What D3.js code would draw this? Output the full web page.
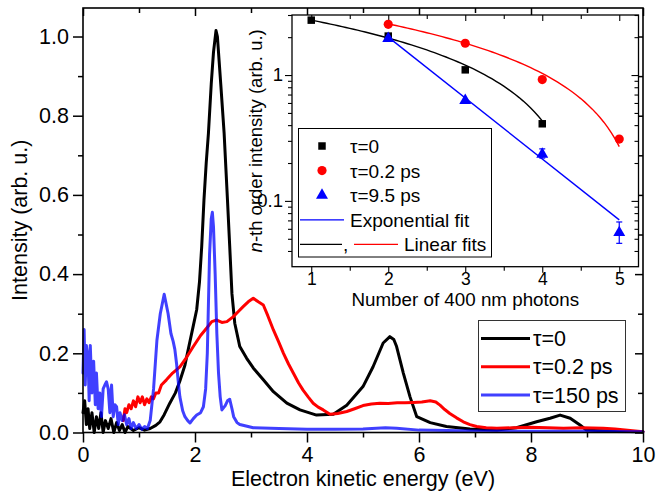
<!DOCTYPE html>
<html>
<head>
<meta charset="utf-8">
<script src="https://cdn.jsdelivr.net/npm/d3@7"></script>
<style>
  html, body { margin: 0; padding: 0; background: #fff; }
  svg { display: block; font-family: "Liberation Sans", Arial, Helvetica, sans-serif; }
</style>
</head>
<body>
<svg id="chart" width="671" height="493"></svg>
<script>
// ---- photoelectron spectra: [kinetic energy (eV), intensity (arb. u.)] ----
const spectrumTau0 = [
  [0.00,0.05],[0.03,0.08],[0.06,0.02],[0.09,0.06],[0.12,0.01],[0.16,0.05],[0.20,0.00],[0.24,0.04],
  [0.28,0.01],[0.32,0.05],[0.36,0.00],[0.40,0.03],[0.45,0.01],[0.50,0.035],[0.55,0.00],[0.60,0.025],
  [0.65,0.005],[0.70,0.02],[0.75,0.00],[0.80,0.015],[0.90,0.005],[1.00,0.012],[1.10,0.006],[1.20,0.01],
  [1.30,0.018],[1.375,0.027],[1.45,0.045],[1.55,0.074],[1.65,0.10],[1.73,0.13],[1.82,0.17],[1.91,0.23],
  [1.97,0.27],[2.03,0.31],[2.08,0.38],[2.12,0.47],[2.16,0.587],[2.20,0.68],[2.24,0.756],[2.29,0.88],
  [2.33,0.96],[2.375,1.015],[2.40,1.0],[2.43,0.94],[2.46,0.88],[2.52,0.756],[2.58,0.587],[2.62,0.47],
  [2.66,0.35],[2.71,0.276],[2.80,0.217],[2.92,0.188],[3.04,0.163],[3.22,0.133],[3.40,0.103],[3.64,0.074],
  [3.875,0.057],[4.17,0.044],[4.47,0.046],[4.71,0.069],[5.00,0.116],[5.18,0.166],[5.36,0.226],[5.48,0.242],
  [5.55,0.235],[5.60,0.217],[5.72,0.15],[5.84,0.09],[5.96,0.04],[6.20,0.025],[6.49,0.015],[6.91,0.009],
  [7.39,0.006],[7.74,0.012],[8.10,0.027],[8.34,0.036],[8.52,0.044],[8.70,0.036],[8.875,0.019],[8.99,0.006],
  [9.50,0.003],[10.0,0.002]
];
const spectrumTau02 = [
  [0.72,0.03],[0.75,0.06],[0.78,0.05],[0.82,0.07],[0.86,0.06],[0.90,0.08],[0.94,0.065],[0.98,0.09],
  [1.02,0.075],[1.06,0.09],[1.10,0.07],[1.14,0.085],[1.18,0.075],[1.22,0.09],[1.26,0.085],[1.30,0.10],
  [1.35,0.10],[1.40,0.12],[1.49,0.133],[1.60,0.15],[1.73,0.166],[1.85,0.19],[1.97,0.217],[2.10,0.245],
  [2.21,0.264],[2.30,0.28],[2.39,0.284],[2.48,0.278],[2.57,0.28],[2.68,0.292],[2.77,0.305],[2.86,0.318],
  [2.95,0.33],[3.04,0.339],[3.13,0.33],[3.22,0.322],[3.30,0.295],[3.40,0.259],[3.49,0.23],[3.58,0.20],
  [3.67,0.173],[3.76,0.149],[3.85,0.125],[3.93,0.107],[4.02,0.09],[4.11,0.074],[4.20,0.064],[4.29,0.057],
  [4.41,0.046],[4.55,0.048],[4.71,0.053],[4.85,0.06],[5.00,0.068],[5.15,0.072],[5.30,0.074],[5.45,0.073],
  [5.61,0.075],[5.75,0.075],[5.90,0.076],[6.05,0.077],[6.20,0.08],[6.30,0.077],[6.375,0.069],[6.46,0.058],
  [6.55,0.048],[6.67,0.037],[6.79,0.027],[6.91,0.02],[7.03,0.015],[7.20,0.012],[7.39,0.011],[7.70,0.012],
  [7.98,0.013],[8.30,0.012],[8.58,0.011],[8.90,0.012],[9.29,0.011],[9.50,0.009],[9.77,0.005],[10.0,0.002]
];
const spectrumTau150 = [
  [0.00,0.15],[0.02,0.26],[0.04,0.12],[0.06,0.22],[0.09,0.19],[0.11,0.08],[0.13,0.22],[0.16,0.10],
  [0.19,0.18],[0.22,0.07],[0.24,0.15],[0.27,0.06],[0.30,0.10],[0.33,0.04],[0.36,0.11],[0.39,0.12],
  [0.42,0.128],[0.45,0.11],[0.48,0.05],[0.51,0.12],[0.54,0.04],[0.57,0.07],[0.60,0.065],[0.63,0.02],
  [0.66,0.05],[0.70,0.03],[0.74,0.045],[0.78,0.02],[0.82,0.035],[0.86,0.01],[0.90,0.025],[0.95,0.01],
  [1.00,0.02],[1.05,0.008],[1.10,0.015],[1.15,0.01],[1.20,0.03],[1.26,0.11],[1.32,0.233],[1.38,0.30],
  [1.45,0.349],[1.52,0.30],[1.57,0.25],[1.61,0.23],[1.64,0.21],[1.67,0.175],[1.70,0.13],[1.73,0.09],
  [1.78,0.055],[1.82,0.04],[1.87,0.03],[1.91,0.024],[1.97,0.035],[2.03,0.044],[2.10,0.05],[2.15,0.065],
  [2.19,0.11],[2.22,0.20],[2.26,0.45],[2.29,0.54],[2.31,0.556],[2.33,0.52],[2.36,0.40],[2.39,0.25],
  [2.42,0.15],[2.45,0.09],[2.48,0.057],[2.54,0.068],[2.58,0.08],[2.62,0.084],[2.66,0.06],[2.69,0.04],
  [2.75,0.025],[2.80,0.02],[3.04,0.012],[3.50,0.01],[4.00,0.008],[4.50,0.008],[5.00,0.009],[5.40,0.012],
  [5.60,0.011],[6.00,0.006],[7.00,0.004],[8.00,0.003],[9.00,0.003],[10.0,0.002]
];
const spectrumLabels = ["\u03C4=0", "\u03C4=0.2 ps", "\u03C4=150 ps"];
const energyTicks = [0, 2, 4, 6, 8, 10];
const intensityTicks = [0.0, 0.2, 0.4, 0.6, 0.8, 1.0];

// ---- inset: n-th order intensity vs number of 400 nm photons ----
const photonsTau0 = [1, 2, 3, 4];
const orderTau0 = [2.73, 2.04, 1.10, 0.41];
const photonsTau02 = [2, 3, 4, 5];
const orderTau02 = [2.53, 1.79, 0.92, 0.31];
const photonsTau95 = [2, 3, 4, 5];
const orderTau95 = [1.99, 0.64, 0.239, 0.057];
const errTau95 = [0, 0, 0.02, 0.011];
const insetLabels = ["\u03C4=0", "\u03C4=0.2 ps", "\u03C4=9.5 ps"];
// fit coefficients: linear I = a + b n ; exponential log10 I = a + b n
const linearFitTau0 = { a: 3.50, b: -0.767, from: 1, to: 4 };
const linearFitTau02 = { a: 4.07, b: -0.76, from: 2, to: 5 };
const expFitTau95 = { a: 1.269, b: -0.484, from: 2, to: 5 };
const photonTicks = [1, 2, 3, 4, 5];

const svg = d3.select("#chart");
const BLUE_MAIN = "#0000ff";

// ---------- main panel ----------
const M = { left: 83, right: 643, top: 8, bottom: 432.5 };
const x = d3.scaleLinear().domain([0, 10]).range([M.left, M.right]);
const y = d3.scaleLinear().domain([0, 1.072]).range([M.bottom, M.top]);

const line = d3.line().x(d => x(d[0])).y(d => y(d[1]));

const curves = svg.append("g").attr("fill", "none")
  .attr("stroke-linejoin", "round").attr("stroke-linecap", "round");
curves.append("path").datum(spectrumTau0).attr("d", line)
  .attr("stroke", "#000").attr("stroke-width", 3);
curves.append("path").datum(spectrumTau02).attr("d", line)
  .attr("stroke", "#ff0000").attr("stroke-width", 3);
curves.append("path").datum(spectrumTau150).attr("d", line)
  .attr("stroke", BLUE_MAIN).attr("stroke-opacity", 0.75).attr("stroke-width", 3);

// axes
const FS = 21.5;
function styleAxis(g) {
  g.select(".domain").remove();
  g.selectAll("line").attr("stroke", "#000").attr("stroke-width", 1.5);
  g.selectAll("text").attr("font-size", FS).attr("fill", "#000");
}
svg.append("g").attr("transform", `translate(0,${M.bottom})`)
  .call(d3.axisBottom(x).tickValues(energyTicks).tickSize(10).tickPadding(4).tickFormat(d3.format("d")))
  .call(styleAxis);
svg.append("g").attr("transform", `translate(0,${M.bottom})`)
  .call(d3.axisBottom(x).tickValues([1,3,5,7,9]).tickSize(5).tickFormat(""))
  .call(styleAxis);
svg.append("g").attr("transform", `translate(${M.left},0)`)
  .call(d3.axisLeft(y).tickValues(intensityTicks).tickSize(10).tickPadding(4).tickFormat(d3.format(".1f")))
  .call(styleAxis);
svg.append("g").attr("transform", `translate(${M.left},0)`)
  .call(d3.axisLeft(y).tickValues([0.1,0.3,0.5,0.7,0.9]).tickSize(5).tickFormat(""))
  .call(styleAxis);
// mirrored inward ticks
svg.append("g").attr("transform", `translate(0,${M.top})`)
  .call(d3.axisBottom(x).tickValues(energyTicks).tickSize(8).tickFormat(""))
  .call(styleAxis);
svg.append("g").attr("transform", `translate(0,${M.top})`)
  .call(d3.axisBottom(x).tickValues([1,3,5,7,9]).tickSize(5).tickFormat(""))
  .call(styleAxis);
svg.append("g").attr("transform", `translate(${M.right},0)`)
  .call(d3.axisLeft(y).tickValues(intensityTicks).tickSize(8).tickFormat(""))
  .call(styleAxis);
svg.append("g").attr("transform", `translate(${M.right},0)`)
  .call(d3.axisLeft(y).tickValues([0.1,0.3,0.5,0.7,0.9]).tickSize(5).tickFormat(""))
  .call(styleAxis);
svg.append("rect").attr("x", M.left).attr("y", M.top)
  .attr("width", M.right - M.left).attr("height", M.bottom - M.top)
  .attr("fill", "none").attr("stroke", "#000").attr("stroke-width", 1.6);

svg.append("text").attr("x", (M.left + M.right) / 2).attr("y", 486)
  .attr("text-anchor", "middle").attr("font-size", FS).text("Electron kinetic energy (eV)");
svg.append("text").attr("transform", `translate(27,${(M.top + M.bottom) / 2}) rotate(-90)`)
  .attr("text-anchor", "middle").attr("font-size", FS).text("Intensity (arb. u.)");

// main legend
const lg = svg.append("g");
lg.append("rect").attr("x", 478.5).attr("y", 320.5).attr("width", 147).attr("height", 91)
  .attr("fill", "#fff").attr("stroke", "#333").attr("stroke-width", 1);
const lgColors = ["#000", "#ff0000", BLUE_MAIN];
const lgOpac = [1, 1, 0.75];
spectrumLabels.forEach((t, i) => {
  const yy = 338.5 + i * 28.3;
  lg.append("line").attr("x1", 481).attr("x2", 530).attr("y1", yy).attr("y2", yy)
    .attr("stroke", lgColors[i]).attr("stroke-opacity", lgOpac[i]).attr("stroke-width", 3);
  lg.append("text").attr("x", 533).attr("y", yy + 7.5).attr("font-size", FS).text(t);
});

// ---------- inset ----------
const I = { left: 292, right: 638.5, top: 15, bottom: 266.7 };
const xi = d3.scaleLinear().domain([0.75, 5.25]).range([I.left, I.right]);
const yi = d3.scaleLog().domain([0.03, 3]).range([I.bottom, I.top]);
const FSI = 18.5;

svg.append("rect").attr("x", I.left).attr("y", I.top)
  .attr("width", I.right - I.left).attr("height", I.bottom - I.top)
  .attr("fill", "#fff");

const logMajor = [0.1, 1];
const logMinor = [0.04,0.05,0.06,0.07,0.08,0.09,0.2,0.3,0.4,0.5,0.6,0.7,0.8,0.9,2,3];
function styleInset(g) {
  g.select(".domain").remove();
  g.selectAll("line").attr("stroke", "#000").attr("stroke-width", 1.1);
  g.selectAll("text").attr("font-size", FSI).attr("fill", "#000");
}
// bottom tick labels placed by baseline so they sit just above the axis title
const bx = svg.append("g").attr("transform", `translate(0,${I.bottom})`)
  .call(d3.axisBottom(xi).tickValues(photonTicks).tickSize(6).tickFormat(d3.format("d")))
  .call(styleInset);
bx.selectAll("text").attr("y", 18.8).attr("dy", null).attr("font-size", 17.5);
svg.append("g").attr("transform", `translate(0,${I.bottom})`)
  .call(d3.axisBottom(xi).tickValues([1.5,2.5,3.5,4.5]).tickSize(4).tickFormat(""))
  .call(styleInset);
svg.append("g").attr("transform", `translate(0,${I.top})`)
  .call(d3.axisBottom(xi).tickValues(photonTicks).tickSize(6).tickFormat(""))
  .call(styleInset);
svg.append("g").attr("transform", `translate(0,${I.top})`)
  .call(d3.axisBottom(xi).tickValues([1.5,2.5,3.5,4.5]).tickSize(4).tickFormat(""))
  .call(styleInset);
svg.append("g").attr("transform", `translate(${I.left},0)`)
  .call(d3.axisLeft(yi).tickValues(logMajor).tickSize(7).tickPadding(2).tickFormat(d3.format("")))
  .call(styleInset);
svg.append("g").attr("transform", `translate(${I.left},0)`)
  .call(d3.axisLeft(yi).tickValues(logMinor).tickSize(4).tickFormat(""))
  .call(styleInset);
svg.append("g").attr("transform", `translate(${I.right},0)`)
  .call(d3.axisLeft(yi).tickValues(logMajor).tickSize(7).tickFormat(""))
  .call(styleInset);
svg.append("g").attr("transform", `translate(${I.right},0)`)
  .call(d3.axisLeft(yi).tickValues(logMinor).tickSize(4).tickFormat(""))
  .call(styleInset);
svg.append("rect").attr("x", I.left).attr("y", I.top)
  .attr("width", I.right - I.left).attr("height", I.bottom - I.top)
  .attr("fill", "none").attr("stroke", "#000").attr("stroke-width", 1.3);

svg.append("text").attr("x", (I.left + I.right) / 2).attr("y", 306)
  .attr("text-anchor", "middle").attr("font-size", FSI + 0.3).text("Number of 400 nm photons");
const yl = svg.append("text").attr("transform", `translate(262,${(I.top + I.bottom) / 2}) rotate(-90)`)
  .attr("text-anchor", "middle").attr("font-size", FSI);
yl.append("tspan").attr("font-style", "italic").text("n");
yl.append("tspan").text("-th order intensity (arb. u.)");

// fit curves
const fitLine = d3.line().x(d => xi(d[0])).y(d => yi(d[1]));
function linearFit(f) {
  return d3.range(f.from, f.to + 0.0001, 0.05).map(n => [n, f.a + f.b * n]);
}
const fits = svg.append("g").attr("fill", "none").attr("stroke-width", 1.4);
fits.append("path").datum(linearFit(linearFitTau0)).attr("d", fitLine).attr("stroke", "#000");
fits.append("path").datum(linearFit(linearFitTau02)).attr("d", fitLine).attr("stroke", "#ff0000");
fits.append("path").datum([expFitTau95.from, expFitTau95.to].map(n => [n, Math.pow(10, expFitTau95.a + expFitTau95.b * n)]))
  .attr("d", fitLine).attr("stroke", "#0000ff");

// error bars
const eb = svg.append("g").attr("stroke", "#0000ff").attr("stroke-width", 1.2);
photonsTau95.forEach((n, i) => {
  if (!errTau95[i]) return;
  const v = orderTau95[i], e = errTau95[i];
  eb.append("line").attr("x1", xi(n)).attr("x2", xi(n)).attr("y1", yi(v + e)).attr("y2", yi(v - e));
  eb.append("line").attr("x1", xi(n) - 3).attr("x2", xi(n) + 3).attr("y1", yi(v + e)).attr("y2", yi(v + e));
  eb.append("line").attr("x1", xi(n) - 3).attr("x2", xi(n) + 3).attr("y1", yi(v - e)).attr("y2", yi(v - e));
});

const sym = {
  square: d3.symbol().type(d3.symbolSquare).size(56),
  circle: d3.symbol().type(d3.symbolCircle).size(66),
  triangle: d3.symbol().type(d3.symbolTriangle).size(62)
};
const pts = svg.append("g");
photonsTau0.forEach((n, i) => pts.append("path").attr("d", sym.square())
  .attr("transform", `translate(${xi(n)},${yi(orderTau0[i])})`).attr("fill", "#000"));
photonsTau02.forEach((n, i) => pts.append("path").attr("d", sym.circle())
  .attr("transform", `translate(${xi(n)},${yi(orderTau02[i])})`).attr("fill", "#ff0000"));
photonsTau95.forEach((n, i) => pts.append("path").attr("d", sym.triangle())
  .attr("transform", `translate(${xi(n)},${yi(orderTau95[i]) + 1})`).attr("fill", "#0000ff"));

// inset legend
const il = svg.append("g");
il.append("rect").attr("x", 298.5).attr("y", 128.5).attr("width", 193).attr("height", 128.5)
  .attr("fill", "#fff").attr("stroke", "#000").attr("stroke-width", 1);
const ilSyms = [sym.square, sym.circle, sym.triangle];
const ilCols = ["#000", "#ff0000", "#0000ff"];
insetLabels.forEach((t, i) => {
  const yy = 146 + i * 24.6;
  il.append("path").attr("d", ilSyms[i]()).attr("transform", `translate(322,${yy})`).attr("fill", ilCols[i]);
  il.append("text").attr("x", 350).attr("y", yy + 7).attr("font-size", FSI + 0.5).text(t);
});
const yExp = 146 + 3 * 24.6;
il.append("line").attr("x1", 300).attr("x2", 344).attr("y1", yExp).attr("y2", yExp)
  .attr("stroke", "#0000ff").attr("stroke-width", 1.3);
il.append("text").attr("x", 350).attr("y", yExp + 7).attr("font-size", FSI + 0.5).text("Exponential fit");
const yLin = 146 + 4 * 24.6;
il.append("line").attr("x1", 300).attr("x2", 342).attr("y1", yLin).attr("y2", yLin)
  .attr("stroke", "#000").attr("stroke-width", 1.3);
il.append("text").attr("x", 343).attr("y", yLin + 7).attr("font-size", FSI + 0.5).text(",");
il.append("line").attr("x1", 354).attr("x2", 398).attr("y1", yLin).attr("y2", yLin)
  .attr("stroke", "#ff0000").attr("stroke-width", 1.3);
il.append("text").attr("x", 404).attr("y", yLin + 7).attr("font-size", FSI + 0.5).text("Linear fits");
</script>
</body>
</html>
